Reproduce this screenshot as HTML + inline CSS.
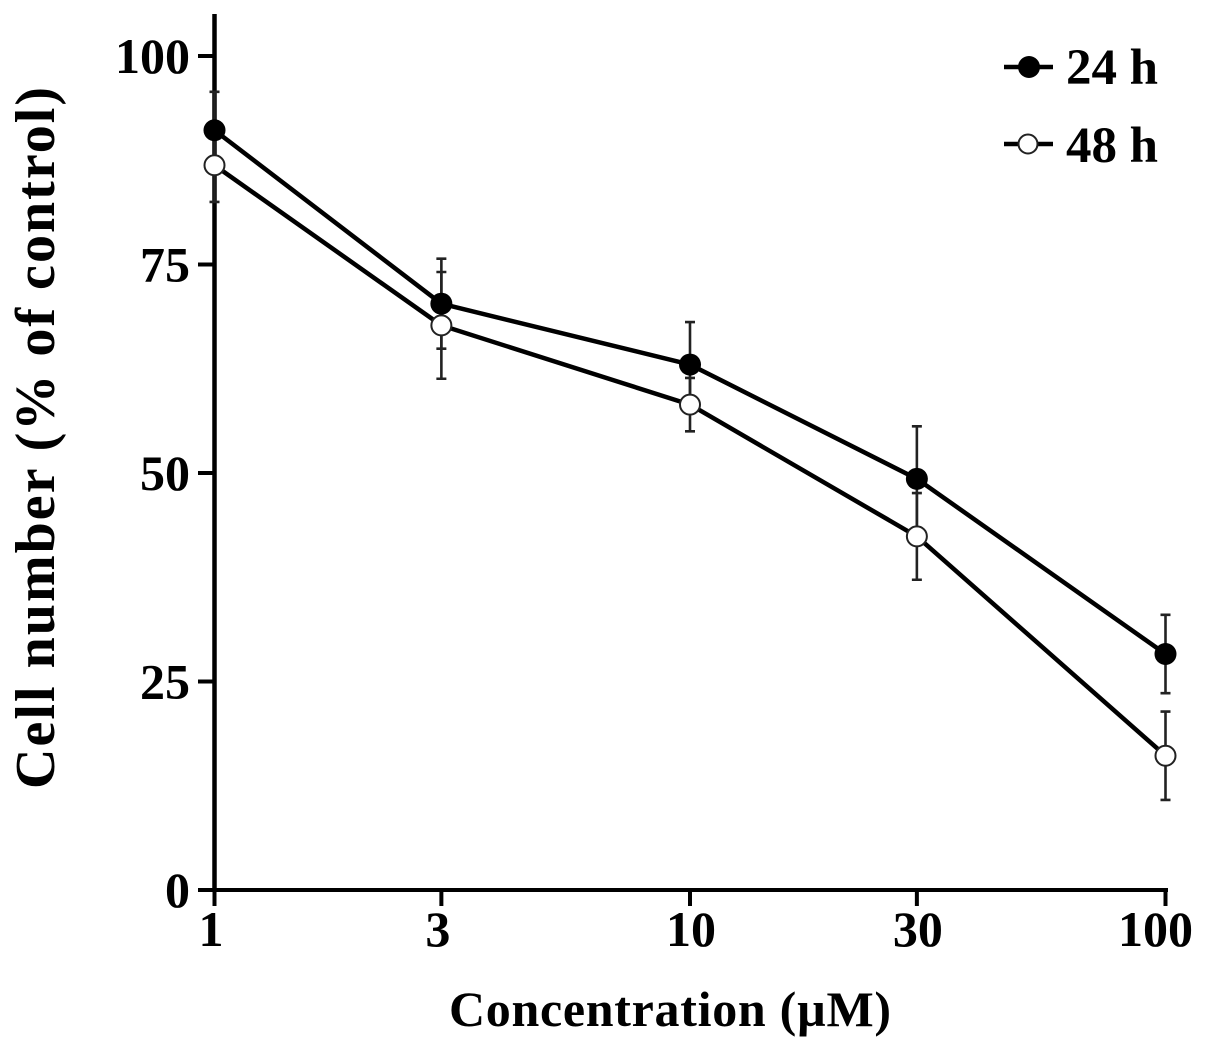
<!DOCTYPE html>
<html lang="en">
<head>
<meta charset="utf-8">
<title>Cell number vs concentration</title>
<style>
html,body{margin:0;padding:0;background:#fff;}
body{width:1205px;height:1049px;overflow:hidden;}
svg{display:block;}
text{font-family:"Liberation Serif",serif;font-weight:bold;fill:#000;}
</style>
</head>
<body>
<svg id="chart" width="1205" height="1049" viewBox="0 0 1205 1049" xmlns="http://www.w3.org/2000/svg">
  <text transform="translate(54,438) rotate(-90)" text-anchor="middle" font-size="56" textLength="702" lengthAdjust="spacing">Cell number (% of control)</text>
  <text x="670" y="1026" text-anchor="middle" font-size="50" textLength="442" lengthAdjust="spacing">Concentration (µM)</text>
  <g id="axes"></g>
  <g id="error-bars"></g>
  <g id="lines"></g>
  <g id="markers"></g>
  <g>
    <g>
      <line x1="1004" x2="1053" y1="67" y2="67" stroke="#000" stroke-width="4.5"/>
      <circle cx="1029" cy="67" r="11" fill="#000"/>
      <text x="1066" y="84" font-size="51" textLength="92" lengthAdjust="spacing">24 h</text>
    </g>
    <g>
      <line x1="1004" x2="1053" y1="144" y2="144" stroke="#000" stroke-width="4.5"/>
      <circle cx="1028" cy="144" r="9.5" fill="#fff" stroke="#222" stroke-width="2"/>
      <text x="1066" y="162" font-size="51" textLength="92" lengthAdjust="spacing">48 h</text>
    </g>
  </g>
</svg>
<script>
const concentrations = [1, 3, 10, 30, 100];
const xTickLabels = ['1', '3', '10', '30', '100'];
const yTicks = [0, 25, 50, 75, 100];
const values24h = [91.1, 70.3, 63.0, 49.3, 28.3];
const errors24h = [4.6, 5.4, 5.1, 6.3, 4.7];
const values48h = [86.9, 67.7, 58.2, 42.4, 16.1];
const errors48h = [4.4, 6.4, 3.2, 5.2, 5.3];

const NS = 'http://www.w3.org/2000/svg';
const xScale = function (c) { return 214.5 + Math.log10(c) * 475.5; };
const yScale = function (v) { return 890 - v * 8.34; };
const axes = document.getElementById('axes');
const barLayer = document.getElementById('error-bars');
const lineLayer = document.getElementById('lines');
const markerLayer = document.getElementById('markers');

function make(tag, attrs, parent) {
  const el = document.createElementNS(NS, tag);
  for (const k in attrs) el.setAttribute(k, attrs[k]);
  parent.appendChild(el);
  return el;
}

const yAxisLine = make('line', {x1: 214.5, x2: 214.5, y1: 14, y2: 892, stroke: '#000', 'stroke-width': 4.5}, axes);


const xAxisLine = make('line', {x1: 198, x2: 1168, y1: 890, y2: 890, stroke: '#000', 'stroke-width': 4}, axes);



yTicks.forEach(function (t) {
  const y = yScale(t);
  const tick = make('line', {x1: 198, x2: 214, y1: y, y2: y, stroke: '#000', 'stroke-width': 4}, axes);
  
  
  const label = make('text', {x: 190, y: y + 17, 'text-anchor': 'end', 'font-size': 50}, axes);
  
  
  label.textContent = String(t);
});

concentrations.forEach(function (c, i) {
  const x = xScale(c);
  const tick = make('line', {x1: x, x2: x, y1: 890, y2: 906, stroke: '#000', 'stroke-width': 4}, axes);
  
  
  const nudge = i === 4 ? -10 : (i >= 2 ? 1 : -3.5);
  const label = make('text', {x: x + nudge, y: 946, 'text-anchor': 'middle', 'font-size': 50}, axes);
  
  
  label.textContent = xTickLabels[i];
});

const allSeries = [
  {name: '48h', values: values48h, errors: errors48h, filled: false},
  {name: '24h', values: values24h, errors: errors24h, filled: true}
];

allSeries.forEach(function (s) {
  s.values.forEach(function (v, i) {
    const x = xScale(concentrations[i]);
    const top = yScale(v + s.errors[i]);
    const bottom = yScale(v - s.errors[i]);
    const bar = make('path', {
      d: 'M' + x + ' ' + top + 'V' + bottom + 'M' + (x - 5) + ' ' + top + 'H' + (x + 5) + 'M' + (x - 5) + ' ' + bottom + 'H' + (x + 5),
      stroke: '#222', 'stroke-width': 2.6, fill: 'none'
    }, barLayer);
    
    
  });
});
allSeries.forEach(function (s) {
  const pts = s.values.map(function (v, i) { return xScale(concentrations[i]) + ',' + yScale(v); }).join(' ');
  const line = make('polyline', {points: pts, fill: 'none', stroke: '#000', 'stroke-width': 4.5, 'stroke-linejoin': 'round'}, lineLayer);
  
  
});
allSeries.forEach(function (s) {
  s.values.forEach(function (v, i) {
    const pt = make('circle', {
      cx: xScale(concentrations[i]), cy: yScale(v), r: s.filled ? 11 : 10,
      fill: s.filled ? '#000' : '#fff', stroke: s.filled ? 'none' : '#222', 'stroke-width': s.filled ? 0 : 2
    }, markerLayer);
    
    
  });
});
</script>
</body>
</html>
